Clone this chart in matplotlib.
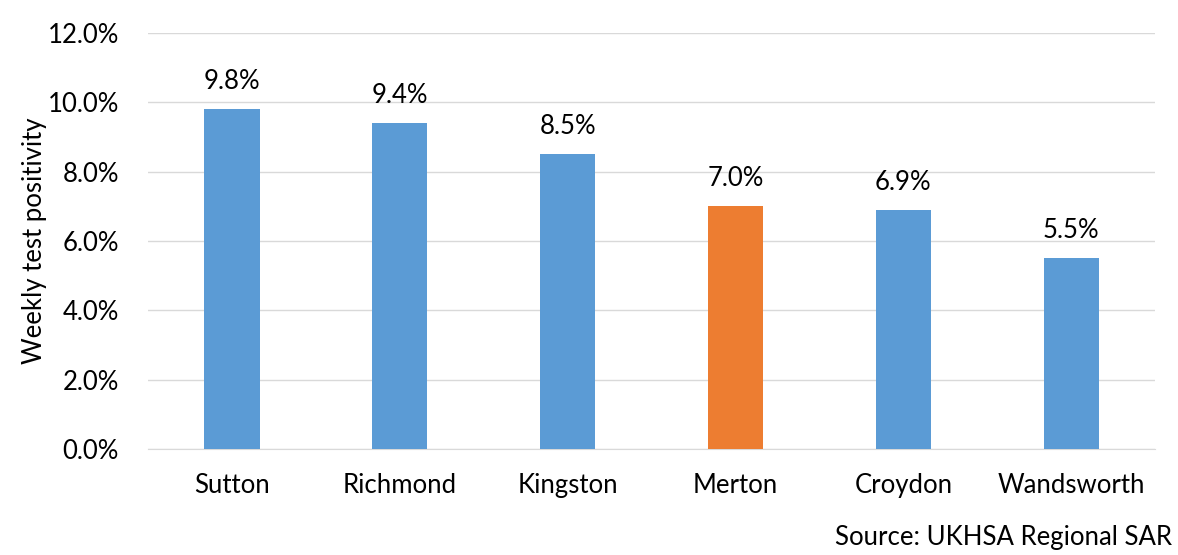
import matplotlib.pyplot as plt

boroughs = ['Sutton', 'Richmond', 'Kingston', 'Merton', 'Croydon', 'Wandsworth']
positivity = [9.8, 9.4, 8.5, 7.0, 6.9, 5.5]
highlight = 'Merton'
yticks = [0, 2, 4, 6, 8, 10, 12]

plt.rcParams['font.family'] = ['Lato', 'DejaVu Sans']

fig = plt.figure(figsize=(11.78, 5.55), dpi=100)
ax = fig.add_axes([0.1256, 0.191, 0.855, 0.7495])

colors = ['#ED7D31' if b == highlight else '#5B9BD5' for b in boroughs]
bars = ax.bar(boroughs, positivity, width=0.33, color=colors, zorder=3)

# value labels above bars
for rect, v in zip(bars, positivity):
  ax.annotate(f'{v:.1f}%', (rect.get_x() + rect.get_width() / 2, v),
              xytext=(0, 11), textcoords='offset points',
              ha='center', va='bottom', fontsize=18.5)

ax.set_xlim(-0.5, len(boroughs) - 0.5)
ax.set_ylim(0, 12)
ax.set_yticks(yticks)
ax.set_yticklabels([f'{t:.1f}%' for t in yticks])
ax.yaxis.grid(True, color='#D9D9D9', linewidth=1, zorder=0)

for s in ['top', 'right', 'left']:
  ax.spines[s].set_visible(False)
ax.spines['bottom'].set_color('#D9D9D9')
ax.tick_params(axis='both', length=0, labelsize=18.5)
ax.tick_params(axis='x', pad=17)
ax.tick_params(axis='y', pad=21)

ax.set_ylabel('Weekly test positivity', fontsize=18.5)
ax.yaxis.set_label_coords(-0.10, 0.5)

fig.text(0.995, 1 - 538 / 555, 'Source: UKHSA Regional SAR',
         ha='right', va='center', fontsize=18.5)

plt.savefig('out.png')
